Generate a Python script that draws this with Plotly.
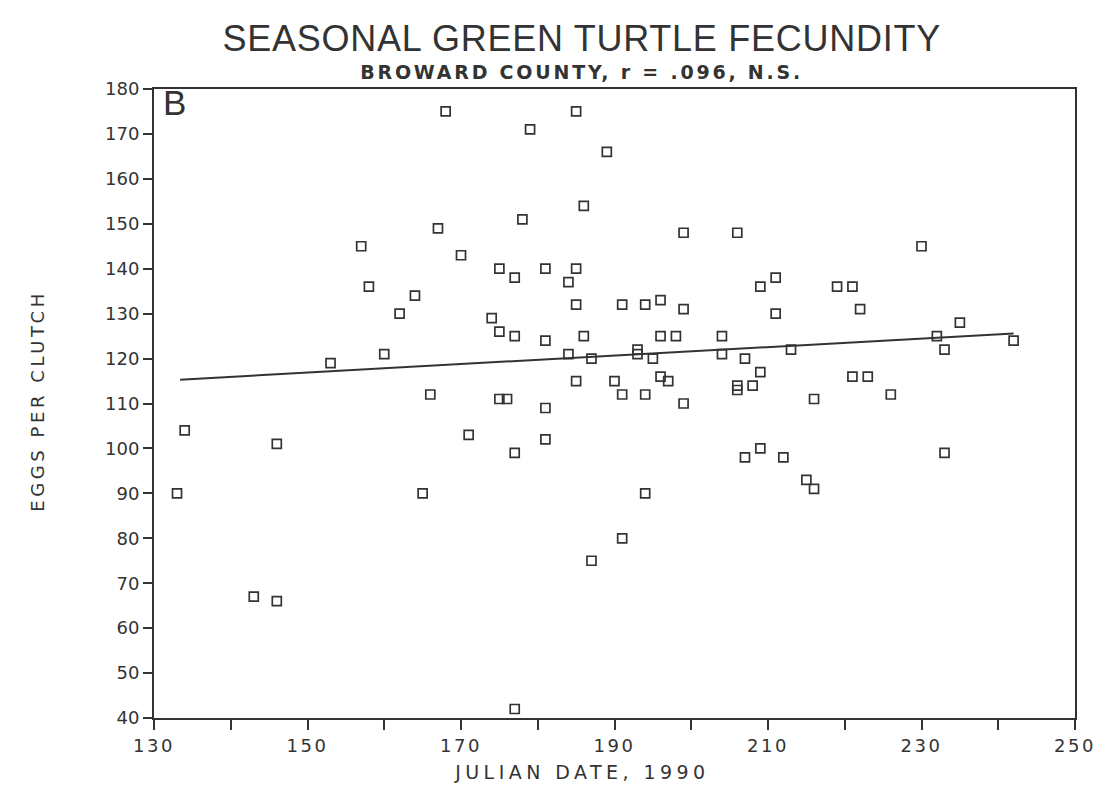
import plotly.graph_objects as go

# Julian day and eggs per clutch
julian_day = [133, 134, 143, 146, 146, 153, 157, 158, 160, 162, 164, 165, 166, 167, 168,
              170, 171, 174, 175, 175, 175, 176, 177, 177, 177, 177, 178, 179, 181, 181,
              181, 181, 184, 184, 185, 185, 185, 185, 186, 186, 187, 187, 189, 190, 191,
              191, 191, 193, 193, 194, 194, 194, 195, 196, 196, 196, 197, 198, 199, 199,
              199, 204, 204, 206, 206, 206, 207, 207, 208, 209, 209, 209, 211, 211, 212,
              213, 215, 216, 216, 219, 221, 221, 222, 223, 226, 230, 232, 233, 233, 235,
              242]
eggs = [90, 104, 67, 66, 101, 119, 145, 136, 121, 130, 134, 90, 112, 149, 175,
        143, 103, 129, 140, 126, 111, 111, 138, 125, 99, 42, 151, 171, 140, 124,
        109, 102, 137, 121, 175, 140, 132, 115, 154, 125, 120, 75, 166, 115, 132,
        112, 80, 122, 121, 132, 112, 90, 120, 133, 125, 116, 115, 125, 148, 131,
        110, 125, 121, 148, 114, 113, 120, 98, 114, 136, 117, 100, 138, 130, 98,
        122, 93, 111, 91, 136, 136, 116, 131, 116, 112, 145, 125, 122, 99, 128,
        124]

# Regression line end points as drawn
fit_x = [133.4, 242]
fit_y = [115.3, 125.6]

x_ticks = [130, 150, 170, 190, 210, 230, 250]
y_ticks = [40, 50, 60, 70, 80, 90, 100, 110, 120, 130, 140, 150, 160, 170, 180]

title_text = "SEASONAL GREEN TURTLE FECUNDITY"
subtitle_text = "BROWARD COUNTY, r = .096, N.S."
x_label = "JULIAN DATE, 1990"
y_label = "EGGS PER CLUTCH"
panel_label = "B"

ink = "#333333"
plot_font = "DejaVu Sans, Verdana, sans-serif"
title_font = "Liberation Sans, Arial, sans-serif"

fig = go.Figure()
fig.add_trace(go.Scatter(
    x=fit_x, y=fit_y, mode="lines",
    line=dict(color=ink, width=2), showlegend=False, hoverinfo="skip"))
fig.add_trace(go.Scatter(
    x=julian_day, y=eggs, mode="markers",
    marker=dict(symbol="square-open", size=9, color=ink, line=dict(width=1.7, color=ink)),
    showlegend=False))

fig.update_xaxes(
    range=[130, 250], tickvals=x_ticks, ticks="outside", ticklen=10, tickwidth=1.5,
    tickcolor=ink, showline=True, linewidth=2, linecolor=ink, mirror=True,
    showgrid=False, zeroline=False,
    minor=dict(dtick=10, tick0=130, ticks="outside", ticklen=10, tickwidth=1.5, tickcolor=ink, showgrid=False),
    tickfont=dict(size=18, color=ink, family=plot_font))
fig.update_yaxes(
    range=[40, 180], tickvals=y_ticks, ticks="outside", ticklen=9, tickwidth=1.5,
    tickcolor=ink, showline=True, linewidth=2, linecolor=ink, mirror=True,
    showgrid=False, zeroline=False,
    tickfont=dict(size=18, color=ink, family=plot_font))

annotations = [
    dict(text=title_text, x=0.4647, y=1.0806, xref="paper", yref="paper",
         showarrow=False, font=dict(size=36, color=ink, family=title_font),
         xanchor="center", yanchor="middle"),
    dict(text="<b>" + subtitle_text + "</b>", x=0.4647, y=1.0265, xref="paper", yref="paper",
         showarrow=False, font=dict(size=19, color=ink, family=plot_font),
         xanchor="center", yanchor="middle"),
    dict(text=x_label, x=0.4647, y=-0.0858, xref="paper", yref="paper",
         showarrow=False, font=dict(size=19, color=ink, family=plot_font),
         xanchor="center", yanchor="middle"),
    dict(text=y_label, x=-0.126, y=0.504, xref="paper", yref="paper",
         showarrow=False, textangle=-90, font=dict(size=18, color=ink, family=plot_font),
         xanchor="center", yanchor="middle"),
    dict(text=panel_label, x=0.008, y=1.012, xref="paper", yref="paper",
         showarrow=False, font=dict(size=35, color=ink, family=title_font),
         xanchor="left", yanchor="top"),
]

# The page body has an 8px default margin, so the figure is sized to fit the window.
fig.update_layout(
    width=1101, height=801,
    margin=dict(l=146, r=34, t=81, b=91, autoexpand=False),
    paper_bgcolor="white", plot_bgcolor="white",
    annotations=annotations,
)

post_script = """
var gd = document.getElementById('{plot_id}');
var targets = {
  'SEASONAL GREEN TURTLE FECUNDITY': 718,
  'BROWARD COUNTY, r = .096, N.S.': 440,
  'JULIAN DATE, 1990': 250,
  'EGGS PER CLUTCH': 218
};
gd.querySelectorAll('.annotation-text').forEach(function(el){
  var t = el.textContent;
  if (targets[t]) {
    var n = t.length;
    var w = el.getComputedTextLength();
    var ls = (targets[t] - w) / (n - 1);
    if (ls > 0) { el.style.letterSpacing = ls + 'px'; }
  }
});
gd.querySelectorAll('.xtick text').forEach(function(el){
  el.style.letterSpacing = '2.5px';
});
"""

fig.write_html("out.html", post_script=post_script)
